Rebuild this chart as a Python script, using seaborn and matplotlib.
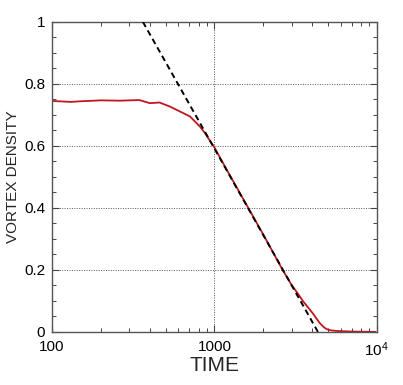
import matplotlib
matplotlib.use("Agg")
import matplotlib.pyplot as plt
import matplotlib.ticker as mticker
import seaborn as sns
import pandas as pd

# Data
time = [100, 120, 130, 150, 200, 262, 345, 400, 460, 532, 614, 708, 816, 873,
        1000, 1200, 1400, 1600, 2000, 2630, 3000, 3300, 3525, 3800, 4060, 4250,
        4460, 4700, 4900, 5200, 5650, 7000, 9800]
density = [0.745, 0.743, 0.742, 0.744, 0.747, 0.746, 0.748, 0.738, 0.740, 0.727,
           0.711, 0.695, 0.662, 0.642, 0.595, 0.520, 0.458, 0.404, 0.314, 0.200,
           0.150, 0.120, 0.098, 0.077, 0.058, 0.043, 0.028, 0.016, 0.009, 0.005,
           0.003, 0.001, 0.0]
fit_time = [363, 4340]
fit_density = [1.0, 0.0]

x_ticks = [100, 1000, 10000]
x_labels = ["100", "1000", r"$10^4$"]
y_ticks = [0, 0.2, 0.4, 0.6, 0.8, 1.0]
y_labels = ["0", "0.2", "0.4", "0.6", "0.8", "1"]

sns.set_style("ticks")
plt.rcParams["font.family"] = ["Liberation Sans", "DejaVu Sans"]
plt.rcParams["mathtext.fontset"] = "custom"
plt.rcParams["mathtext.rm"] = "Liberation Sans"
plt.rcParams["mathtext.it"] = "Liberation Sans"

fig = plt.figure(figsize=(4.03, 3.85), dpi=100)
ax = fig.add_axes([0.129, 0.138, 0.806, 0.805])

df = pd.DataFrame({"t": time, "d": density})
fit = pd.DataFrame({"t": fit_time, "d": fit_density})
sns.lineplot(data=fit, x="t", y="d", ax=ax, color="black", lw=1.4,
             linestyle=(0, (3, 2)), zorder=3)
sns.lineplot(data=df, x="t", y="d", ax=ax, color="#c0161e", lw=1.3, zorder=2)

ax.set_xscale("log")
ax.set_xlim(100, 10000)
ax.set_ylim(0, 1)
ax.set_xticks(x_ticks)
ax.set_xticklabels(x_labels)
ax.xaxis.set_minor_locator(mticker.LogLocator(base=10, subs=range(2, 10)))
ax.xaxis.set_minor_formatter(mticker.NullFormatter())
ax.set_yticks(y_ticks)
ax.set_yticklabels(y_labels)
ax.yaxis.set_minor_locator(mticker.MultipleLocator(0.05))

ax.grid(True, which="major", color="#555555", linestyle=(0, (1, 1.5)), lw=0.7)
ax.tick_params(which="both", direction="in", top=True, right=True,
               colors="#444444", labelcolor="black", labelsize=11)
ax.tick_params(which="major", length=5, width=0.8)
ax.tick_params(which="minor", length=3, width=0.7)
ax.tick_params(axis="x", pad=6)
ax.tick_params(axis="y", pad=5)
for s in ax.spines.values():
    s.set_color("#555555")
    s.set_linewidth(1.0)

ax.set_xlabel("TIME", fontsize=15, labelpad=-2)
ax.set_ylabel("VORTEX DENSITY", fontsize=11, labelpad=3)

fig.savefig("out.png", dpi=100)
